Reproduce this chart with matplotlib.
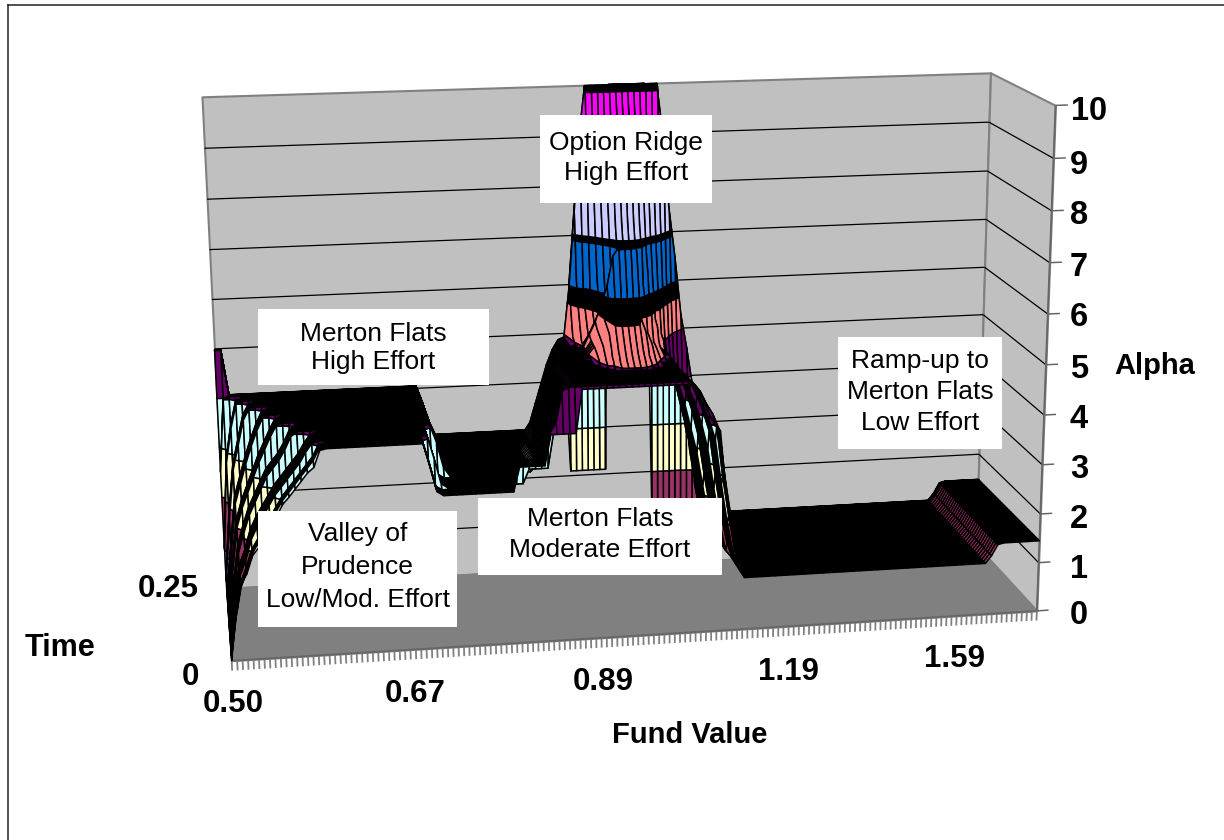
import numpy as np
import matplotlib
matplotlib.use("Agg")
import matplotlib.pyplot as plt
from matplotlib.patches import Rectangle
from matplotlib.lines import Line2D
from mpl_toolkits.mplot3d.art3d import Poly3DCollection, Line3DCollection
import types

plt.rcParams['font.family'] = ['Liberation Sans', 'DejaVu Sans']

# ---------- data ----------
fund_tick_labels = ["0.50", "0.67", "0.89", "1.19", "1.59"]
time_tick_labels = ["0", "0.25"]
alpha_ticks = list(range(0, 11))
time_rows = [0, .03, .06, .09, .12, .15, .18, .21, .24, .27, .30, .33, .36, .39, .42, .45, .48, .51, .54, .57,
             .60, .63, .66, .69, .72, .75, .78, .81, .84, .87, .90, .93, .96, .975, .985, .988, .991, .994, .997, 1.0]
time_rows = [t * 0.25 for t in time_rows]

# Each zone: (number of time rows, alpha across columns); (v, n) = v repeated n times
valley = [
    (1, [0, .9, 1.5, 1.7, 2.05, 2.2, 2.4, 2.6, 2.8, 3.02, 3.15, 3.3, 3.45, 3.6, 3.7, 4.02, (4.05, 2)]),
    (3, [0, .8, 1.4, 1.7, 2.05, 2.25, 2.45, 2.65, 2.85, 3.05, 3.2, 3.35, 3.5, 3.65, 3.8, 4.03, (4.05, 2)]),
    (6, [.05, .8, 1.5, 1.8, 2.2, 2.45, 2.65, 2.85, 3.05, 3.2, 3.35, 3.5, 3.65, 3.85, 4.02, (4.05, 3)]),
    (5, [.1, .9, 1.7, 2.1, 2.45, 2.7, 2.95, 3.2, 3.35, 3.5, 3.7, 3.95, (4.05, 6)]),
    (5, [.2, 1.1, 2.0, 2.4, 2.7, 3.0, 3.3, 3.55, 3.8, 4.02, (4.05, 8)]),
    (5, [.3, 1.3, 2.3, 2.7, 3.1, 3.45, 3.75, 4.0, (4.05, 10)]),
    (4, [.5, 1.8, 2.8, 3.3, 3.8, 4.02, (4.05, 12)]),
    (3, [1.0, 2.8, 3.5, 4.0, (4.05, 14)]),
    (3, [2.5, 4.0, (4.05, 16)]),
    (5, [4.98, 4.98, (4.05, 16)]),
]
flats = [
    (4, [(4.05, 14), 3.6, 3.1, (3.02, 12), (3.5, 5), 4.1]),
    (6, [(4.05, 15), 3.6, 3.1, (3.02, 13), (3.3, 4)]),
    (13, [(4.05, 16), 3.7, 3.2, (3.02, 14), (3.15, 2)]),
    (17, [(4.05, 16), 3.7, 3.3, (3.02, 16)]),
]
ridge_left = [
    (1, [4.1, 4.1, 4.1, 4.1, 4.95, 4.95, 4.95]),
    (3, [4.3, 4.9, 4.97, 4.97, 4.97, 4.97, 4.97]),
    (6, [4.0, 4.6, 4.9, 4.97, 4.97, 4.97, 4.97]),
    (9, [3.9, 4.4, 4.8, 4.95, 4.97, 4.97, 4.97]),
    (6, [3.6, 4.1, 4.5, 4.8, 4.95, 4.97, 4.97]),
    (9, [3.2, 3.6, 4.0, 4.4, 4.7, 4.9, 4.95]),
    (6, [3.02, 3.02, 3.02, 3.3, 3.9, 4.4, 4.7]),
]
ridge_core = [
    (1, [(4.95, 15)]),
    (9, [(4.97, 15)]),
    (1, [(4.97, 5), 5.02, 5.05, 5.05, 5.05, 5.02, 4.98, (4.97, 4)]),
    (1, [(4.97, 4), 4.99, 5.05, 5.1, 5.12, 5.12, 5.1, 5.05, 4.99, (4.97, 3)]),
    (1, [(4.97, 3), 5.02, 5.08, 5.16, 5.2, 5.2, 5.2, 5.16, 5.08, 5.02, (4.97, 3)]),
    (1, [(4.97, 3), 5.05, 5.12, 5.24, 5.32, 5.32, 5.32, 5.24, 5.12, 5.05, (4.97, 3)]),
    (1, [(4.97, 2), 5.02, 5.12, 5.28, 5.38, 5.45, 5.45, 5.45, 5.38, 5.28, 5.12, 5.02, (4.97, 2)]),
    (1, [(4.97, 2), 5.05, 5.18, 5.38, 5.52, 5.6, 5.6, 5.6, 5.52, 5.38, 5.18, 5.05, (4.97, 2)]),
    (1, [4.97, 4.98, 5.08, 5.25, 5.5, 5.66, 5.75, 5.75, 5.75, 5.66, 5.5, 5.25, 5.08, 5.02, 4.97]),
    (1, [4.97, 5.0, 5.11, 5.28, 5.53, 5.69, 5.78, 5.78, 5.78, 5.69, 5.53, 5.28, 5.11, 5.04, 4.97]),
    (1, [4.97, 5.0, 5.13, 5.3, 5.56, 5.72, 5.81, 5.81, 5.81, 5.72, 5.56, 5.3, 5.13, 5.05, 4.97]),
    (1, [4.97, 5.0, 5.15, 5.33, 5.59, 5.75, 5.84, 5.84, 5.84, 5.75, 5.59, 5.33, 5.15, 5.06, 4.97]),
    (1, [4.97, 5.0, 5.16, 5.35, 5.62, 5.78, 5.88, 5.88, 5.88, 5.78, 5.62, 5.35, 5.16, 5.08, 4.98]),
    (1, [4.97, 5.0, 5.17, 5.38, 5.66, 5.84, 5.92, 5.95, 5.95, 5.92, 5.84, 5.66, 5.38, 5.17, 5.0]),
    (1, [4.97, 5.0, 5.18, 5.4, 5.7, 5.9, 6.0, 6.02, 6.02, 6.02, 6.0, 5.9, 5.7, 5.4, 5.15]),
    (1, [4.97, 5.0, 5.2, 5.45, 5.8, 6.05, 6.4, 6.5, 6.5, 6.5, 6.4, 6.05, 5.8, 5.45, 5.15]),
    (1, [4.97, 5.0, 5.25, 5.5, 5.85, 6.2, 6.8, 6.98, 6.98, 6.98, 6.8, 6.2, 5.85, 5.5, 5.2]),
    (1, [4.97, 5.02, 5.2, 5.45, 5.7, 5.9, 6.3, 6.95, 7.02, 7.02, 7.02, 6.95, 6.4, 6.0, 5.6]),
    (1, [4.98, 5.05, 5.3, 5.55, 5.8, 6.0, 6.5, 7.02, 7.06, 7.06, 7.06, 7.02, 6.6, 6.1, 5.8]),
    (1, [5.0, 5.2, 5.45, 5.7, 5.95, 6.4, 6.95, 7.3, 7.4, 7.4, 7.4, 7.3, 7.0, 6.6, 6.1]),
    (1, [5.02, 5.4, 5.6, 5.85, 6.3, 6.95, 7.5, 7.85, 7.98, 7.98, 7.98, 7.85, 7.5, 7.0, 6.6]),
    (1, [5.05, 5.6, 5.75, 6.0, 6.9, 7.5, 8.0, 8.3, 8.5, 8.5, 8.5, 8.3, 8.0, 7.6, 7.2]),
    (1, [5.3, 5.8, 6.02, 6.9, 7.6, 8.2, 8.6, 8.85, 8.98, 8.98, 8.98, 8.85, 8.6, 8.2, 7.9]),
    (1, [5.6, 6.2, 7.2, 8.2, 8.9, 9.1, 9.3, 9.45, 9.5, 9.5, 9.5, 9.45, 9.3, 9.1, 8.9]),
    (1, [5.9, 7.3, 8.8, 9.8, (9.95, 11)]),
    (1, [6.0, 7.5, 9.0, (9.97, 12)]),
    (1, [6.0, 7.5, 9.0, (10, 12)]),
    (1, [(5.0, 7), (10, 7), 5.0]),
    (1, [(4.0, 7), (10, 7), 4.0]),
    (1, [(3.0, 7), (10, 7), 3.0]),
    (1, [(2.5, 7), (10, 7), 2.0]),
    (1, [(2.1, 7), (9.9, 7), 1.05]),
]
ridge_right = [
    (1, [4.9, 4.7, 4.4, 4.15, 4.0, 2.7, 2.0, 1.3, (1.05, 7)]),
    (3, [4.9, 4.75, 4.5, 4.3, 4.0, 3.0, 2.2, 1.5, (1.05, 7)]),
    (6, [4.85, 4.7, 4.4, 4.1, 3.7, 2.8, 2.0, 1.4, (1.05, 7)]),
    (9, [4.8, 4.5, 4.2, 3.8, 3.3, 2.5, 1.8, 1.2, (1.05, 7)]),
    (6, [4.6, 4.3, 3.9, 3.4, 2.9, 2.2, 1.5, 1.1, (1.05, 7)]),
    (1, [4.8, 4.4, 3.9, 3.4, 2.9, 2.2, 1.5, 1.1, (1.05, 7)]),
    (1, [5.0, 4.5, 4.0, 3.5, 2.9, 2.2, 1.5, 1.1, (1.05, 7)]),
    (1, [5.4, 4.7, 4.1, 3.6, 3.0, 2.2, 1.5, 1.1, (1.05, 7)]),
    (1, [6.0, 5.0, 4.3, 3.7, 3.0, 2.3, 1.5, 1.1, (1.05, 7)]),
    (1, [6.7, 5.6, 4.6, 3.9, 3.1, 2.4, 1.6, 1.1, (1.05, 7)]),
    (1, [7.4, 6.2, 5.0, 4.2, 3.3, 2.5, 1.7, 1.1, (1.05, 7)]),
    (1, [8.5, 7.2, 5.7, 4.7, 3.7, 2.7, 1.8, 1.1, (1.05, 7)]),
    (1, [9.95, 8.5, 7.0, 5.6, 4.5, 3.8, 2.8, 1.9, 1.2, (1.05, 6)]),
    (1, [9.97, 8.9, 7.4, 6.2, 5.0, 4.3, 3.5, 2.5, 1.5, 1.1, (1.05, 5)]),
    (1, [10, 9.0, 7.5, 6.5, 5.3, 4.6, 3.8, 2.8, 1.7, 1.1, (1.05, 5)]),
    (1, [(5.0, 5), 4.0, 3.0, 2.0, 1.4, (1.05, 6)]),
    (1, [(4.0, 5), 2.5, 1.8, 1.2, (1.05, 7)]),
    (1, [(3.0, 5), 1.3, (1.05, 9)]),
    (1, [(2.0, 5), (1.05, 10)]),
    (1, [(1.05, 15)]),
]
low_flats = [
    (40, [(1.05, 34), 1.2, 1.42, (1.45, 7)]),
]
# colour bands along alpha; black rings stand for the tightly packed mesh lines of the original
band_levels = [0, 1, 2, 3, 4, 5, 5.65, 6, 6.93, 7.05, 8, 9, 9.88, 10]
band_colors = ['#9999FF', '#993366', '#FFFFCC', '#CCFFFF', '#660066', '#FF8080', 'black',
               '#0066CC', 'black', '#CCCCFF', '#000080', '#FF00FF', 'black']

annotations = [
    ("Option Ridge\nHigh Effort", (540, 115, 712, 203), 1.33, -1),
    ("Merton Flats\nHigh Effort", (258, 309, 489, 385), 1.23, 1),
    ("Ramp-up to\nMerton Flats\nLow Effort", (838, 337, 1002, 449), 1.375, -1),
    ("Valley of\nPrudence\nLow/Mod. Effort", (258, 511, 457, 627), 1.46, -2),
    ("Merton Flats\nModerate Effort", (478, 498, 722, 575), 1.40, -2),
]

# ---------- layout ----------
W, H = 1224, 840
n_axis_ticks = 155
fund_label_xy = [(233, 704), (415, 694), (603, 682), (788, 672), (955, 659)]
time_label_xy = [(190, 677), (168, 589)]
alpha_label_xy = [(1079, 615), (1079, 569), (1079, 520), (1079, 470), (1079, 420), (1079, 369),
                  (1079, 318), (1079, 267), (1079, 216), (1079, 165), (1089, 112)]


def expand(zone):
    rows = []
    for count, spec in zone:
        row = []
        for item in spec:
            if isinstance(item, tuple):
                row.extend([item[0]] * item[1])
            else:
                row.append(item)
        rows.extend([row] * count)
    return np.array(rows, float)


Z = np.hstack([expand(z) for z in (valley, flats, ridge_left, ridge_core, ridge_right, low_flats)])
T = np.array(time_rows)
n_rows, n_cols = Z.shape
X = np.arange(n_cols)
x_max, t_max, z_max = n_cols - 1, 0.25, 10

fig = plt.figure(figsize=(W / 100, H / 100), dpi=100)
fig.patch.set_facecolor('white')
ax = fig.add_axes([0, (H - W) / 2 / H, 1, W / H], projection='3d', computed_zorder=False)
ax.set_axis_off()
ax.patch.set_visible(False)
ax.set_xlim(0, x_max); ax.set_ylim(0, t_max); ax.set_zlim(0, z_max)

# camera fitted to the chart's box corners (world fractions -> pixels)
corners = [((0, 0, 0), (232, 662)), ((1, 0, 0), (1036, 610)), ((1, 1, 0), (977, 546)), ((0, 1, 0), (226, 587)),
           ((0, 1, 1), (202, 97)), ((1, 1, 1), (990, 73)), ((1, 0, 1), (1056, 105))]
A = []
for (u, v, w), (px, py) in corners:
    py = H - py
    A.append([u, v, w, 1, 0, 0, 0, 0, -px * u, -px * v, -px * w, -px])
    A.append([0, 0, 0, 0, u, v, w, 1, -py * u, -py * v, -py * w, -py])
P = np.linalg.svd(np.array(A, float) / 1000.0)[2][-1].reshape(3, 4)
P = P / (P[2] @ np.array([0, 0, 0, 1.0]))
P = P @ np.diag([1 / x_max, 1 / t_max, 1 / z_max, 1.0])


def get_proj(self):
    Q = self.transData.inverted().get_matrix() @ P
    return np.array([Q[0], Q[1], Q[2] - np.array([0, 0, 0, 0.5]), Q[2]])


ax.get_proj = types.MethodType(get_proj, ax)


def pane(points, color, z):
    ax.add_collection3d(Poly3DCollection([points], facecolors=color, edgecolors='#808080', linewidths=1.5, zorder=z))


pane([(0, t_max, 0), (x_max, t_max, 0), (x_max, t_max, z_max), (0, t_max, z_max)], '#C0C0C0', 1)
pane([(x_max, 0, 0), (x_max, t_max, 0), (x_max, t_max, z_max), (x_max, 0, z_max)], '#C0C0C0', 1)
pane([(0, 0, 0), (x_max, 0, 0), (x_max, t_max, 0), (0, t_max, 0)], '#808080', 1)

grid = []
for a in alpha_ticks[1:-1]:
    grid.append([(0, t_max, a), (x_max, t_max, a)])
    grid.append([(x_max, t_max, a), (x_max, 0, a)])
ax.add_collection3d(Line3DCollection(grid, colors='black', linewidths=0.9, zorder=2))

ticks = [[(c, 0, 0), (c, 0, -0.2)] for c in np.linspace(0, x_max, n_axis_ticks)]
ax.add_collection3d(Line3DCollection(ticks, colors='#808080', linewidths=1.3, zorder=2))
ticks_z = [[(x_max, 0, a), (x_max + 2, 0, a)] for a in alpha_ticks]
ax.add_collection3d(Line3DCollection(ticks_z, colors='#666666', linewidths=1.1, zorder=2))
ax.add_collection3d(Line3DCollection([[(0, 0, 0), (x_max, 0, 0)], [(x_max, 0, 0), (x_max, 0, z_max)]],
                                     colors='#666666', linewidths=1.3, zorder=2))


# surface: sloping runs of cells in a column are joined and cut at each colour band, flat cells read black
def clip(poly, level, keep_above):
    out = []
    n = len(poly)
    for k in range(n):
        a, b = poly[k], poly[(k + 1) % n]
        ina = a[2] >= level if keep_above else a[2] <= level
        inb = b[2] >= level if keep_above else b[2] <= level
        if ina:
            out.append(a)
        if ina != inb:
            f = (level - a[2]) / (b[2] - a[2])
            out.append(tuple(a[m] + f * (b[m] - a[m]) for m in range(3)))
    return out


def step(i, c):
    return ((Z[i + 1, c] - Z[i, c]) + (Z[i + 1, c + 1] - Z[i, c + 1])) / 2


def slope(i, c):
    return max(abs(Z[i + 1, c] - Z[i, c]), abs(Z[i + 1, c + 1] - Z[i, c + 1]))


def across(i, c):
    return max(abs(Z[i, c + 1] - Z[i, c]), abs(Z[i + 1, c + 1] - Z[i + 1, c]))


THRESH = 0.015
polys, colors = [], []
for c in range(n_cols - 1):
    i = 0
    while i < n_rows - 1:
        j = i
        if slope(i, c) > THRESH:
            sign = np.sign(step(i, c))
            while (j + 1 < n_rows - 1 and slope(j + 1, c) > THRESH and np.sign(step(j + 1, c)) == sign):
                j += 1
        left = [(X[c], T[k], Z[k, c]) for k in range(i, j + 2)]
        right = [(X[c + 1], T[k], Z[k, c + 1]) for k in range(j + 1, i - 1, -1)]
        run = left + right
        if j == i and slope(i, c) <= THRESH and across(i, c) <= 0.04:
            polys.append(run)
            colors.append('black')
        else:
            zs = [p[2] for p in run]
            for b, color in enumerate(band_colors):
                lo, hi = band_levels[b], band_levels[b + 1]
                if max(zs) < lo or min(zs) > hi:
                    continue
                piece = clip(clip(run, lo, True), hi, False)
                if len(piece) >= 3:
                    polys.append(piece)
                    colors.append(color)
        i = j + 1
ax.add_collection3d(Poly3DCollection(polys, facecolors=colors, edgecolors='black', linewidths=1.1, zorder=3))

# ---------- text ----------
pix = lambda x, y: (x / W, 1 - y / H)
bold = dict(fontweight='bold', ha='center', va='center', color='black', zorder=12)
for lab, xy in zip(fund_tick_labels, fund_label_xy):
    fig.text(*pix(*xy), lab, fontsize=22.5, **bold)
for lab, xy in zip(time_tick_labels, time_label_xy):
    fig.text(*pix(*xy), lab, fontsize=22.5, **bold)
for a, xy in zip(alpha_ticks, alpha_label_xy):
    fig.text(*pix(*xy), str(a), fontsize=23.5, **bold)
fig.text(*pix(690, 735), "Fund Value", fontsize=21, **bold)
fig.text(*pix(60, 648), "Time", fontsize=22, **bold)
fig.text(*pix(1155, 366), "Alpha", fontsize=21, **bold)

for text, (x0, y0, x1, y1), spacing, dy in annotations:
    fig.add_artist(Rectangle((x0 / W, 1 - y1 / H), (x1 - x0) / W, (y1 - y0) / H, transform=fig.transFigure,
                             facecolor='white', edgecolor='none', zorder=10))
    fig.text(*pix((x0 + x1) / 2, (y0 + y1) / 2 + dy), text, fontsize=19, ha='center', va='center',
             linespacing=spacing, color='black', zorder=11)

# chart border: only the top and left edges fall inside the picture
fig.add_artist(Line2D([8 / W, 8 / W], [0, 1 - 5 / H], transform=fig.transFigure, color='#222222', linewidth=1.1, zorder=9))
fig.add_artist(Line2D([8 / W, 1], [1 - 5 / H, 1 - 5 / H], transform=fig.transFigure, color='#222222', linewidth=1.1, zorder=9))

fig.savefig("out.png", dpi=100)
